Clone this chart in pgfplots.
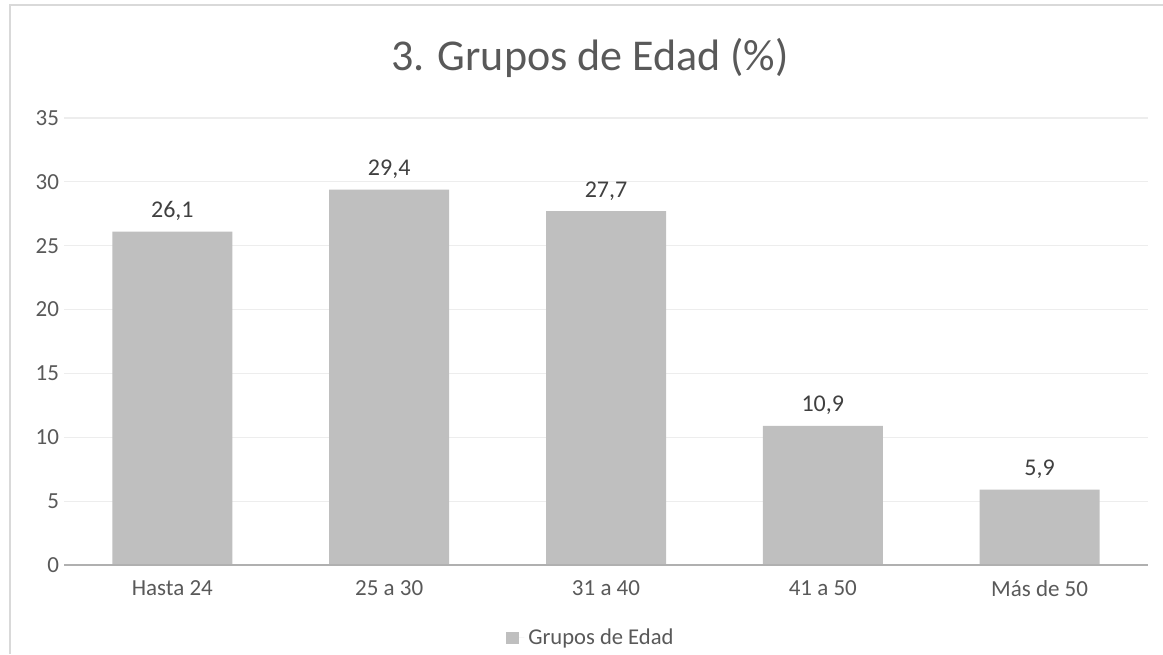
\documentclass[border=0pt]{standalone}
\usepackage{pgfplots}
\pgfplotsset{compat=1.18}
\usepackage{fontspec}
\setmainfont{Carlito}
\definecolor{barc}{HTML}{BFBFBF}
\definecolor{txt}{HTML}{595959}
\definecolor{lbl}{HTML}{404040}
\definecolor{gridc}{HTML}{EDEDED}
\definecolor{framec}{HTML}{D9D9D9}
\definecolor{axc}{HTML}{B0B0B0}
\begin{document}
\begin{tikzpicture}
% 1 px of the reference = 0.5pt
\useasboundingbox (0,0) rectangle (581.5pt,-327pt);
\draw[framec, line width=0.6pt] (5pt,-327pt) -- (5pt,-2.5pt) -- (581.5pt,-2.5pt);
\node[txt, font=\fontsize{22}{25}\selectfont] at (295pt,-29pt) {3. Grupos de Edad (\%)};
\begin{axis}[
  at={(32pt,-282.5pt)}, anchor=south west,
  scale only axis, width=542pt, height=223.5pt,
  ymin=0, ymax=35, ytick={0,5,...,35},
  xmin=-0.5, xmax=4.5,
  xtick=data,
  xticklabels={Hasta 24,25 a 30,31 a 40,41 a 50,Más de 50},
  ybar, bar width=60pt,
  axis line style={draw=none},
  tick style={draw=none},
  ymajorgrids, grid style={gridc, line width=0.6pt},
  ticklabel style={txt, font=\fontsize{11.5}{13}\selectfont},
  yticklabel style={xshift=1pt},
  /pgf/number format/assume math mode=true,
  nodes near coords,
  every node near coord/.append style={lbl, font=\fontsize{12}{14}\selectfont,
    /pgf/number format/fixed, /pgf/number format/precision=1,
    /pgf/number format/fixed zerofill, /pgf/number format/use comma, yshift=2pt},
  legend style={at={(axis description cs:0.487,-0.163)}, anchor=center, draw=none,
    font=\fontsize{11.3}{13}\selectfont, text=txt},
  legend image code/.code={\path (0pt,0pt) -- (9pt,0pt);
    \fill[barc] (0pt,-3pt) rectangle (6.5pt,3pt);},
  clip=false,
]
\addplot[fill=barc, draw=none] coordinates {(0,26.1) (1,29.4) (2,27.7) (3,10.9) (4,5.9)};
\addlegendentry{Grupos de Edad}
\draw[axc, line width=1.2pt] (axis cs:-0.5,0) -- (axis cs:4.5,0);
\end{axis}
\end{tikzpicture}
\end{document}
